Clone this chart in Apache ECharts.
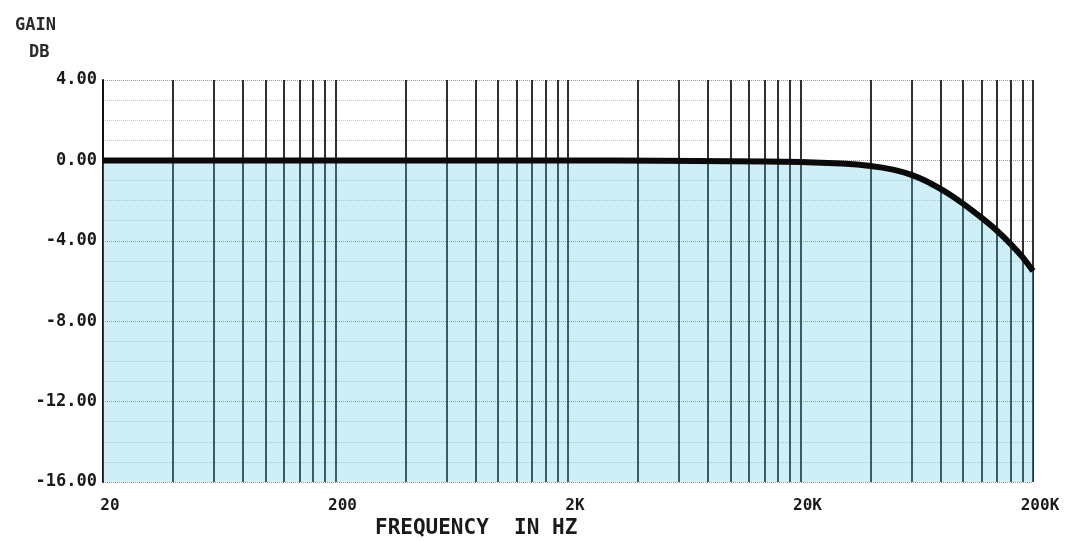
<!DOCTYPE html>
<html>
<head>
<meta charset="utf-8">
<script src="https://cdn.jsdelivr.net/npm/echarts@6/dist/echarts.min.js"></script>
<style>
  html, body { margin: 0; padding: 0; background: #ffffff; }
  #chart { width: 1074px; height: 542px; }
</style>
</head>
<body>
<div id="chart"></div>
<script>
// Frequency response data (Hz, dB)
const freqHz = [20, 50, 100, 200, 500, 1000, 2000, 5000, 10000, 20000, 30000, 40000, 50000, 60000, 70000, 80000, 90000, 100000, 120000, 140000, 160000, 180000, 200000];
const gainDb = [0, 0, 0, 0, 0, 0, 0, -0.02, -0.04, -0.08, -0.16, -0.28, -0.46, -0.72, -1.05, -1.42, -1.78, -2.15, -2.85, -3.5, -4.15, -4.8, -5.5];

// Log-paper vertical grid lines (Hz)
const gridFreqs = [
  40, 60, 80, 100, 120, 140, 160, 180, 200,
  400, 600, 800, 1000, 1200, 1400, 1600, 1800, 2000,
  4000, 6000, 8000, 10000, 12000, 14000, 16000, 18000, 20000,
  40000, 60000, 80000, 100000, 120000, 140000, 160000, 180000, 200000
];

// Axis tick labels
const xTickValues = [20, 200, 2000, 20000, 200000];
const xTickLabels = ['20', '200', '2K', '20K', '200K'];

const MONO = '"DejaVu Sans Mono", "Liberation Mono", monospace';

const chart = echarts.init(document.getElementById('chart'), null, { renderer: 'canvas' });

const points = freqHz.map((f, i) => [f, gainDb[i]]);

chart.setOption({
  backgroundColor: '#ffffff',
  animation: false,
  grid: { left: 103, right: 41, top: 80, bottom: 60 },
  xAxis: {
    type: 'log',
    logBase: 10,
    min: 20,
    max: 200000,
    axisLine: { show: false },
    axisTick: { show: false },
    splitLine: { show: false },
    axisLabel: {
      customValues: xTickValues,
      formatter: function (v) {
        const idx = xTickValues.findIndex(t => Math.abs(t - v) / t < 1e-6);
        return idx >= 0 ? xTickLabels[idx] : '';
      },
      margin: 16,
      color: '#1a1a1a',
      fontFamily: MONO,
      fontWeight: 'bold',
      fontSize: 16,
      padding: [0, 0, 0, 14]
    }
  },
  yAxis: {
    type: 'value',
    min: -16,
    max: 4,
    interval: 4,
    axisLine: { show: true, lineStyle: { color: '#111', width: 2 } },
    axisTick: { show: false },
    axisLabel: {
      formatter: v => v.toFixed(2),
      margin: 6,
      color: '#1a1a1a',
      fontFamily: MONO,
      fontWeight: 'bold',
      fontSize: 17
    },
    splitLine: { show: true, lineStyle: { color: '#8e9a9e', width: 1, type: 'dotted' } },
    minorTick: { show: false, splitNumber: 4 },
    minorSplitLine: { show: true, lineStyle: { color: '#c2cccf', width: 1, type: 'dotted' } }
  },
  graphic: [
    {
      type: 'text', left: 15, top: 17, silent: true,
      style: { text: 'GAIN', fill: '#2a2a2a', font: 'bold 17px ' + MONO }
    },
    {
      type: 'text', left: 29, top: 44, silent: true,
      style: { text: 'DB', fill: '#2a2a2a', font: 'bold 17px ' + MONO }
    },
    {
      type: 'text', left: 375, top: 518, silent: true,
      style: { text: 'FREQUENCY  IN HZ', fill: '#1a1a1a', font: 'bold 21px ' + MONO }
    }
  ],
  series: [
    {
      name: 'grid',
      type: 'line',
      data: points,
      symbol: 'none',
      silent: true,
      z: 1,
      lineStyle: { opacity: 0 },
      markLine: {
        z: 1,
        silent: true,
        symbol: ['none', 'none'],
        label: { show: false },
        lineStyle: { color: '#1a1a1a', width: 2, type: 'solid', opacity: 0.9 },
        data: gridFreqs.map(f => ({ xAxis: f }))
      }
    },
    {
      name: 'Gain',
      type: 'line',
      data: points,
      symbol: 'none',
      smooth: 0.3,
      z: 3,
      lineStyle: { color: '#0a0a0a', width: 6 },
      areaStyle: { color: 'rgba(90, 200, 228, 0.42)', origin: 'start' }
    }
  ]
});
</script>
</body>
</html>
